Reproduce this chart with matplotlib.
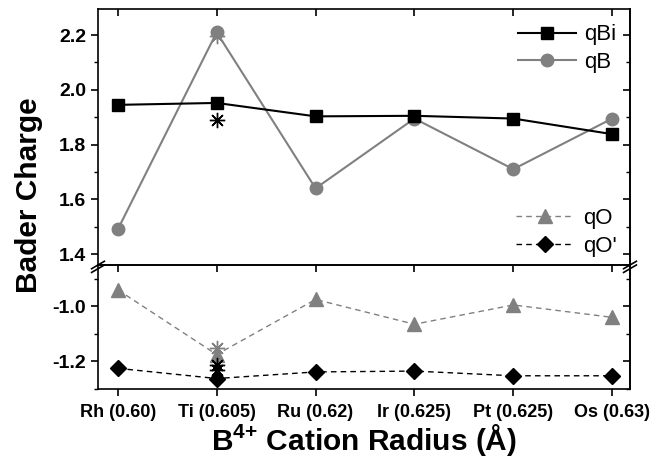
import matplotlib
matplotlib.use("Agg")
import matplotlib.pyplot as plt
from matplotlib.ticker import MultipleLocator
import numpy as np

plt.rcParams['font.family'] = ['Liberation Sans', 'DejaVu Sans']
plt.rcParams['mathtext.fontset'] = 'custom'
plt.rcParams['mathtext.rm'] = 'Liberation Sans'
plt.rcParams['mathtext.bf'] = 'Liberation Sans:bold'

categories = ["Rh (0.60)", "Ti (0.605)", "Ru (0.62)", "Ir (0.625)", "Pt (0.625)", "Os (0.63)"]
qBi = [1.945, 1.952, 1.903, 1.905, 1.895, 1.838]
qB = [1.49, 2.21, 1.64, 1.895, 1.71, 1.895]
qO = [-0.94, -1.175, -0.975, -1.065, -0.995, -1.04]
qOp = [-1.225, -1.262, -1.238, -1.235, -1.252, -1.252]
# extra asterisk points at Ti
star_upper_black = 1.89
star_upper_gray = 2.195
star_lower_gray = -1.15
star_lower_black = [-1.212, -1.232]

x = np.arange(len(categories))
gray = '#808080'

fig = plt.figure(figsize=(6.5, 4.72), dpi=100)
left, right = 98/650, 630/650
ytop, ybrk, ybot = 8.5/472, 265/472, 389/472
ax1 = fig.add_axes([left, 1-ybrk, right-left, ybrk-ytop])
ax2 = fig.add_axes([left, 1-ybot, right-left, ybot-ybrk])

star = (8, 2, 0)

l1, = ax1.plot(x, qBi, '-', color='black', lw=1.5, marker='s', ms=8.5, label='qBi', zorder=4)
l2, = ax1.plot(x, qB, '-', color=gray, lw=1.5, marker='o', ms=9, label='qB', zorder=3)
ax1.plot([x[1]], [star_upper_black], linestyle='none', marker=star, ms=11, mew=1.0, color='black', zorder=5)
ax1.plot([x[1]], [star_upper_gray], linestyle='none', marker=star, ms=11, mew=1.0, color=gray, zorder=2)

l3, = ax2.plot(x, qO, '--', color=gray, lw=1.0, dashes=(4, 3), marker='^', ms=10, label='qO', zorder=3)
l4, = ax2.plot(x, qOp, '--', color='black', lw=1.0, dashes=(4, 3), marker='D', ms=8, label="qO'", zorder=4)
ax2.plot([x[1]], [star_lower_gray], linestyle='none', marker=star, ms=11, mew=1.0, color=gray, zorder=5)
ax2.plot([x[1]]*len(star_lower_black), star_lower_black, linestyle='none', marker=star, ms=11, mew=1.0, color='black', zorder=5)

xlim = (-0.2, 5.18)
ax1.set_xlim(*xlim)
ax2.set_xlim(*xlim)
ax1.set_ylim(1.36, 2.297)
ax2.set_ylim(-1.30, -0.85)

for ax in (ax1, ax2):
    for s in ax.spines.values():
        s.set_linewidth(1.2)
    ax.set_xticks(x)

ax1.spines['bottom'].set_visible(False)
ax1.set_yticks([1.4, 1.6, 1.8, 2.0, 2.2])
ax1.set_yticklabels(['1.4', '1.6', '1.8', '2.0', '2.2'])
ax1.yaxis.set_minor_locator(MultipleLocator(0.1))
ax1.tick_params(axis='x', which='both', bottom=False, labelbottom=False, top=True, direction='in', length=5, width=1.2)

ax2.set_yticks([-1.2, -1.0])
ax2.set_yticklabels(['-1.2', '-1.0'])
ax2.yaxis.set_minor_locator(MultipleLocator(0.1))
ax2.set_xticklabels(categories)
ax2.tick_params(axis='x', which='major', bottom=True, top=False, length=5, width=1.2, direction='out', pad=6)

for ax in (ax1, ax2):
    ax.tick_params(axis='y', which='major', left=True, right=False, direction='out', length=5, width=1.2)
    ax.tick_params(axis='y', which='minor', left=True, right=False, direction='out', length=3, width=1.0)
    for lab in ax.get_yticklabels():
        lab.set_fontweight('bold')
        lab.set_fontsize(14)
    for lab in ax.get_xticklabels():
        lab.set_fontweight('bold')
        lab.set_fontsize(13)
    sec = ax.secondary_yaxis('right')
    sec.set_yticks(ax.get_yticks())
    sec.yaxis.set_minor_locator(MultipleLocator(0.1))
    sec.tick_params(axis='y', which='major', direction='in', length=5, width=1.2, labelright=False)
    sec.tick_params(axis='y', which='minor', direction='in', length=3, width=1.0, labelright=False)
    sec.spines['right'].set_linewidth(1.2)

secx = ax2.secondary_xaxis('top')
secx.set_xticks(x)
secx.tick_params(axis='x', direction='in', length=5, width=1.2, labeltop=False)
secx.spines['top'].set_linewidth(1.2)

# break marks
d = 0.012
for xx in (0, 1):
    ax2.plot([xx - d, xx + d], [1 - 0.03, 1 + 0.03], transform=ax2.transAxes, color='black', lw=1.2, clip_on=False)
    ax2.plot([xx - d, xx + d], [1 - 0.06, 1 + 0.0], transform=ax2.transAxes, color='black', lw=1.2, clip_on=False)

leg1 = ax1.legend(handles=[l1, l2], loc='upper right', bbox_to_anchor=(1.0, 0.99), frameon=False, fontsize=16,
                  handlelength=2.6, borderaxespad=0.2, labelspacing=0.3, handletextpad=0.4)
ax1.add_artist(leg1)
ax1.legend(handles=[l3, l4], loc='lower right', bbox_to_anchor=(1.0, -0.02), frameon=False, fontsize=16,
           handlelength=2.6, borderaxespad=0.2, labelspacing=0.3, handletextpad=0.4)

fig.text(0.044, 1 - 195/472, 'Bader Charge', rotation=90, ha='center', va='center',
         fontsize=21.5, fontweight='bold')
fig.text((left + right) / 2, 1 - 440/472, r'B$^{\mathbf{4{+}}}$ Cation Radius (Å)', ha='center', va='center',
         fontsize=21.5, fontweight='bold')

fig.savefig('out.png', dpi=100)
